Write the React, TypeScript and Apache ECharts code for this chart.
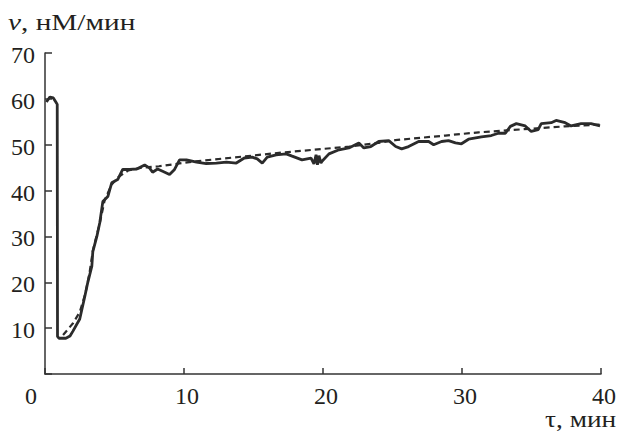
import React, { useEffect, useRef } from "react";
import * as echarts from "echarts";

const xTicks = [0, 10, 20, 30, 40];
const yTicks = [0, 10, 20, 30, 40, 50, 60, 70];

const measuredT = [
  0.1, 0.35, 0.6, 0.8, 0.88, 0.9, 1.0, 1.5, 1.8, 2.0, 2.5, 2.87, 3.08, 3.37, 3.44, 3.73, 3.94, 4.16, 4.52, 4.8,
  5.23, 5.59, 6.09, 6.6, 7.17, 7.53, 7.74, 8.1, 8.46, 8.96, 9.32, 9.68, 10.18, 10.9, 11.6, 12.33, 13.05, 13.76,
  14.34, 14.9, 15.27, 15.63, 15.99, 16.63, 17.35, 17.78, 18.49, 19.14, 19.35, 19.5, 19.6, 19.71, 19.85, 19.93,
  20.43, 21.15, 21.86, 22.58, 22.94, 23.44, 24.01, 24.73, 25.23, 25.66, 26.16, 26.88, 27.6, 27.96, 28.53, 29.03,
  29.53, 29.96, 30.47, 31.4, 32.11, 32.62, 33.12, 33.48, 33.91, 34.55, 34.98, 35.48, 35.7, 36.42, 36.77, 37.42,
  37.85, 38.57, 39.28, 39.93,
];
const measuredV = [
  59.3, 60.4, 60.2, 59.2, 58.8, 8.2, 7.8, 7.8, 8.3, 9.3, 12, 17, 20, 23.5, 26.7, 30, 33, 37.6, 38.7, 41.7,
  42.4, 44.6, 44.6, 44.7, 45.6, 44.9, 44, 44.7, 44.2, 43.5, 44.6, 46.7, 46.7, 46.2, 45.9, 46, 46.2, 46,
  47.1, 47.3, 46.9, 46, 47.3, 47.8, 48, 47.5, 46.7, 47.1, 45.8, 47.8, 45.6, 47.6, 46, 46.4,
  48, 48.9, 49.3, 50.4, 49.3, 49.6, 50.7, 50.9, 49.6, 49.1, 49.6, 50.7, 50.7, 50, 50.7, 50.9,
  50.4, 50.2, 51.2, 51.7, 52, 52.5, 52.5, 54, 54.6, 54.1, 52.9, 53.3, 54.6, 54.8, 55.3, 54.8,
  54.1, 54.6, 54.6, 54.1,
];

const fitT = [1.3, 2, 2.5, 2.9, 3.2, 3.45, 3.95, 4.3, 4.8, 5.3, 6, 7, 8.2, 10.6, 17.1, 21.9, 24.2, 25.2, 28.8, 31.2, 37.4, 40];
const fitV = [8.5, 11, 13.5, 17.5, 22, 27, 33, 38, 41.3, 43, 44.4, 45, 45.3, 46.3, 48.3, 49.6, 50.5, 51, 52, 52.7, 54, 54.4];

const FONT = "'Liberation Serif', 'DejaVu Serif', serif";
const INK = "#231f20";
const FS = 24;

export default function App() {
  const ref = useRef<HTMLDivElement>(null);
  useEffect(() => {
    if (!ref.current) return;
    const chart = echarts.init(ref.current, undefined, { renderer: "svg" });
    const measured = measuredT.map((t, i) => [t, measuredV[i]]);
    const fit = fitT.map((t, i) => [t, fitV[i]]);
    const base = { fontFamily: FONT, fontSize: FS, color: INK, lineHeight: 18 };
    chart.setOption({
      animation: false,
      backgroundColor: "#ffffff",
      grid: { left: 45, right: 16, top: 53, bottom: 62, containLabel: false },
      xAxis: {
        type: "value",
        min: xTicks[0],
        max: xTicks[xTicks.length - 1],
        interval: 10,
        axisLine: { show: true, onZero: false, lineStyle: { color: "#333", width: 1.5 } },
        axisTick: { show: true, inside: true, length: 6, lineStyle: { color: "#333", width: 1.5 } },
        axisLabel: {
          ...base,
          margin: 13,
          formatter: (v: number) => (v === 0 ? `{z|${v}}` : `{a|${v}}`),
          rich: {
            z: { ...base, padding: [0, 28, 0, 0] },
            a: { ...base, padding: [0, 0, 0, 6] },
          },
        },
        splitLine: { show: false },
      },
      yAxis: {
        type: "value",
        min: yTicks[0],
        max: yTicks[yTicks.length - 1],
        interval: 10,
        axisLine: { show: true, onZero: false, lineStyle: { color: "#333", width: 1.5 } },
        axisTick: { show: true, inside: true, length: 7, lineStyle: { color: "#333", width: 1.5 } },
        axisLabel: {
          ...base,
          margin: 10,
          formatter: (v: number) => (v === 0 ? "" : `{a|${v}}`),
          rich: { a: { ...base, padding: [4, 0, 0, 0] } },
        },
        splitLine: { show: false },
      },
      graphic: [
        {
          type: "text",
          x: 8,
          y: 22,
          scaleX: 1.22,
          style: {
            text: "{i|v}, нМ/мин",
            rich: {
              i: { fontFamily: FONT, fontStyle: "italic", fontSize: FS, fill: INK },
            },
            fontFamily: FONT,
            fontSize: FS,
            fill: INK,
            align: "left",
            verticalAlign: "middle",
          },
        },
        {
          type: "text",
          x: 545,
          y: 419,
          scaleX: 1.14,
          style: {
            text: "τ, мин",
            fontFamily: FONT,
            fontSize: FS,
            lineHeight: 18,
            fill: INK,
            align: "left",
            verticalAlign: "middle",
          },
        },
      ],
      series: [
        {
          name: "fit",
          type: "line",
          data: fit,
          showSymbol: false,
          smooth: false,
          lineStyle: { color: "#2b2b2b", width: 2.2, type: [6, 4] },
          z: 2,
        },
        {
          name: "measured",
          type: "line",
          data: measured,
          showSymbol: false,
          lineStyle: { color: "#2b2b2b", width: 2.8 },
          z: 3,
        },
      ],
    });
    return () => chart.dispose();
  }, []);
  return <div ref={ref} style={{ width: 619, height: 436, position: "absolute", left: 0, top: 0 }} />;
}
